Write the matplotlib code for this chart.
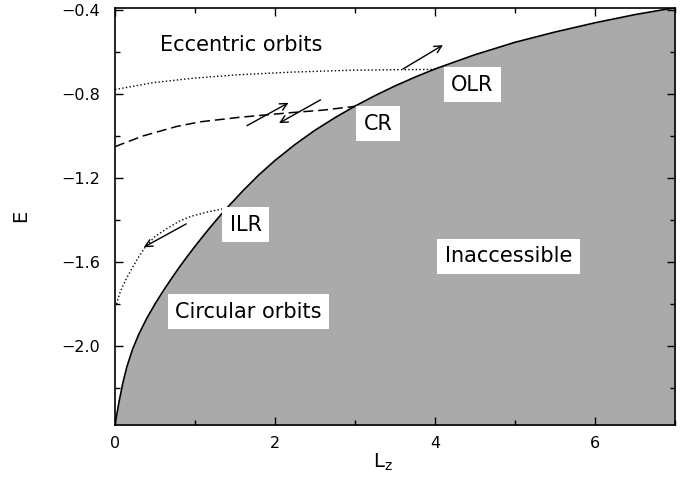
import matplotlib
matplotlib.use("Agg")
import matplotlib.pyplot as plt
from matplotlib.ticker import MultipleLocator

# circular-orbit boundary E_c(L_z)
circ_L = [0.0, 0.05, 0.10, 0.15, 0.22, 0.30, 0.40, 0.50, 0.60, 0.70, 0.80, 0.90,
          1.00, 1.10, 1.20, 1.30, 1.40, 1.60, 1.80, 2.00, 2.25, 2.50, 2.75, 3.00,
          3.25, 3.50, 3.75, 4.00, 4.50, 5.00, 5.50, 6.00, 6.50, 7.00]
circ_E = [-2.376, -2.267, -2.173, -2.097, -2.015, -1.942, -1.866, -1.800, -1.739,
          -1.682, -1.627, -1.575, -1.525, -1.477, -1.430, -1.385, -1.342, -1.260,
          -1.184, -1.116, -1.040, -0.972, -0.912, -0.857, -0.807, -0.761, -0.719,
          -0.680, -0.612, -0.553, -0.504, -0.460, -0.421, -0.388]

# resonance lines
olr_L = [0.0, 0.48, 0.98, 1.52, 2.20, 2.94, 3.60, 4.02]
olr_E = [-0.778, -0.745, -0.724, -0.708, -0.695, -0.686, -0.683, -0.682]

cr_L = [0.0, 0.35, 0.77, 1.06, 1.56, 2.20, 2.60, 3.00]
cr_E = [-1.05, -0.999, -0.954, -0.932, -0.91, -0.888, -0.876, -0.858]

ilr_L = [0.02, 0.04, 0.07, 0.10, 0.15, 0.22, 0.30, 0.375, 0.50, 0.65, 0.80, 0.95,
         1.15, 1.38]
ilr_E = [-1.800, -1.772, -1.738, -1.713, -1.673, -1.625, -1.573, -1.530, -1.478,
         -1.440, -1.406, -1.382, -1.362, -1.343]

# (tail, head) of the scattering arrows
arrows = [
    ((3.60, -0.680), (4.10, -0.566)),
    ((1.65, -0.950), (2.17, -0.841)),
    ((2.57, -0.827), (2.05, -0.938)),
    ((0.89, -1.418), (0.36, -1.529)),
]

labels = ["Eccentric orbits", "OLR", "CR", "ILR", "Circular orbits", "Inaccessible"]
label_pos = [(1.575, -0.568), (4.47, -0.754), (3.29, -0.940), (1.634, -1.422),
             (1.67, -1.836), (4.92, -1.571)]
label_boxed = [False, True, True, True, True, True]

x_range = (0, 7)
y_range = (-2.376, -0.388)

GRAY = "#aaaaaa"

plt.rcParams.update({
    "font.family": "DejaVu Sans",
    "font.size": 11.5,
    "axes.linewidth": 1.2,
})

fig = plt.figure(figsize=(6.86, 4.87), dpi=100)
ax = fig.add_axes([0.1676, 0.1273, 0.8163, 0.8569])

ax.fill_between(circ_L, circ_E, y_range[0], color=GRAY, lw=0, zorder=1)
ax.plot(circ_L, circ_E, color="black", lw=1.2, zorder=3)
ax.plot(olr_L, olr_E, color="black", lw=1.0, ls=":", zorder=2)
ax.plot(cr_L, cr_E, color="black", lw=1.1, ls=(0, (6.5, 3.2)), zorder=2)
ax.plot(ilr_L, ilr_E, color="black", lw=1.0, ls=":", zorder=2)

for tail, head in arrows:
    ax.annotate("", xy=head, xytext=tail,
                arrowprops=dict(arrowstyle="->", lw=1.0, color="black",
                                shrinkA=0, shrinkB=0, mutation_scale=13),
                zorder=4)

for text, (lx, ly), boxed in zip(labels, label_pos, label_boxed):
    bbox = dict(boxstyle="square,pad=0.36", facecolor="white", edgecolor="none") if boxed else None
    ax.text(lx, ly, text, ha="center", va="center", fontsize=15, bbox=bbox, zorder=5)

ax.set_xlim(*x_range)
ax.set_ylim(*y_range)
ax.xaxis.set_major_locator(MultipleLocator(2))
ax.xaxis.set_minor_locator(MultipleLocator(1))
ax.yaxis.set_major_locator(MultipleLocator(0.4))
ax.yaxis.set_minor_locator(MultipleLocator(0.2))
ax.tick_params(which="both", direction="in", top=True, right=True, width=1.0)
ax.tick_params(which="major", length=5.5)
ax.tick_params(which="minor", length=3.5)
ax.tick_params(axis="x", pad=8)
ax.tick_params(axis="y", pad=11)

ax.set_xlabel(r"L$_\mathregular{z}$", fontsize=14)
ax.set_ylabel("E", fontsize=14)
ax.xaxis.set_label_coords(0.479, -0.065)
ax.yaxis.set_label_coords(-0.152, 0.5)

fig.savefig("out.png", dpi=100)
